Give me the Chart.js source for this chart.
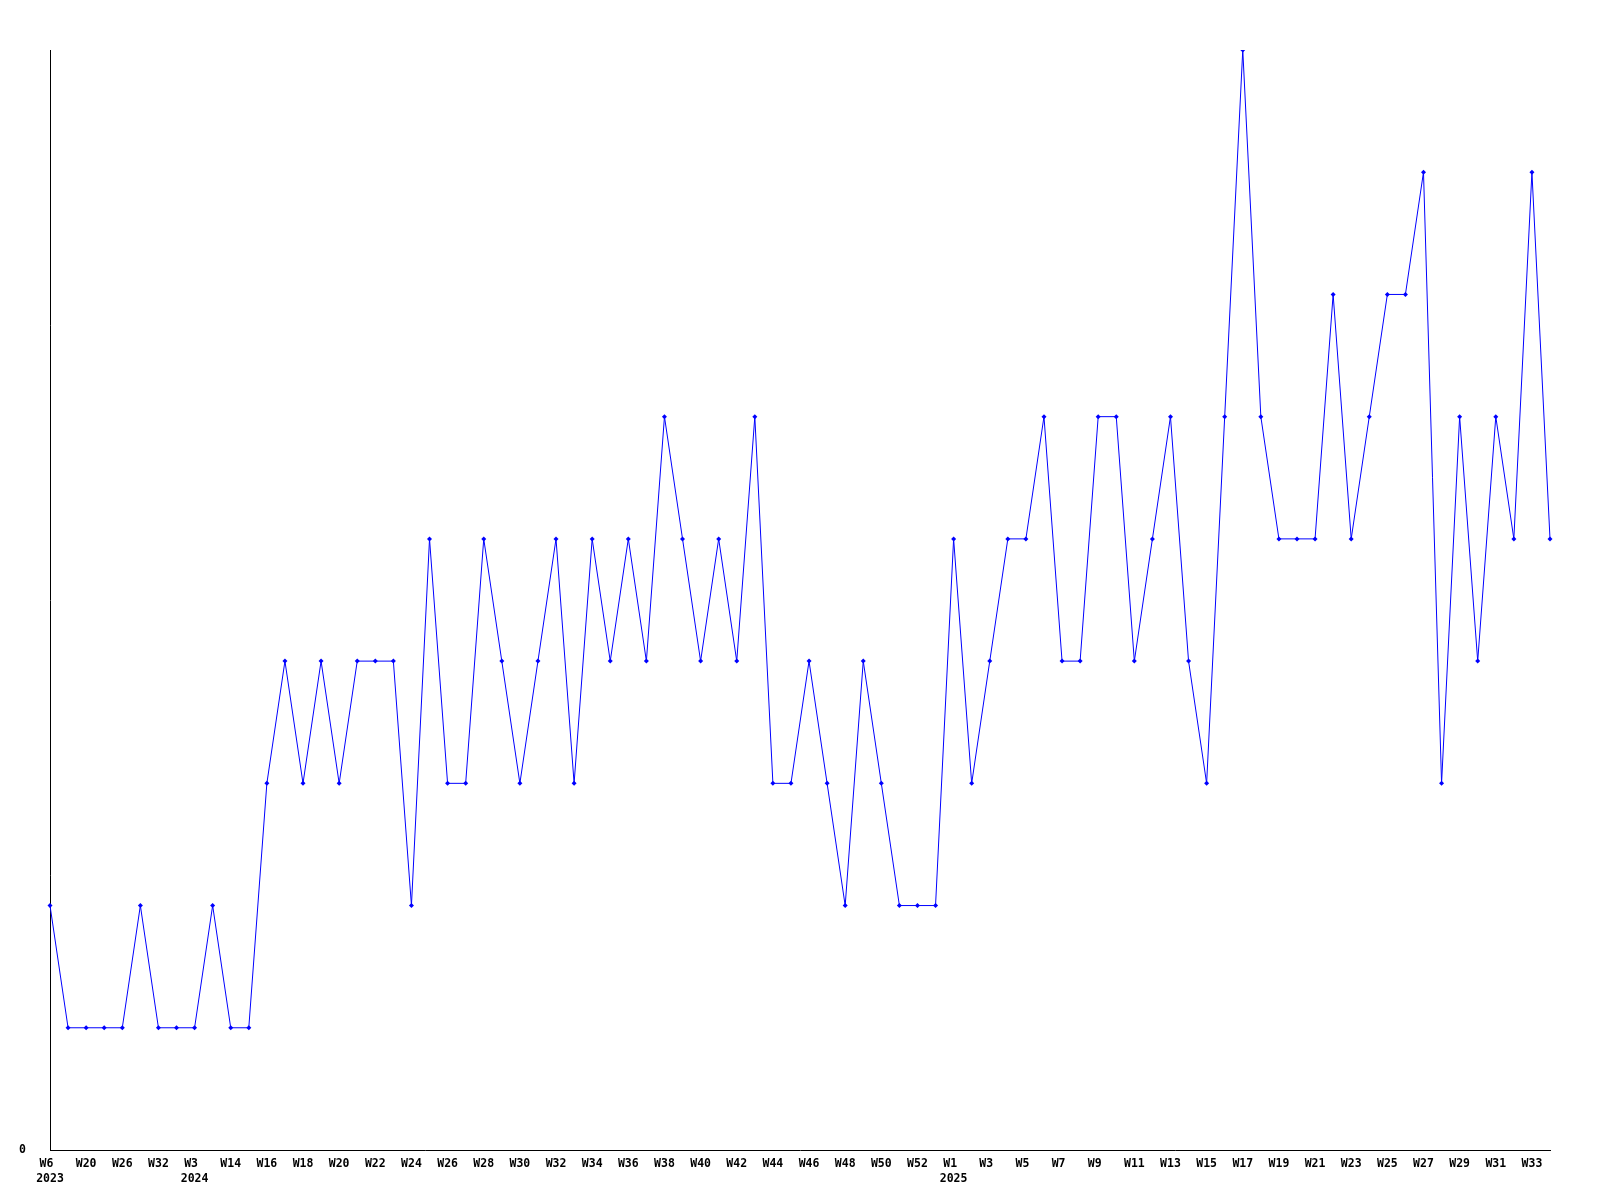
<!DOCTYPE html>
<html>
<head>
<meta charset="utf-8">
<script src="https://cdn.jsdelivr.net/npm/chart.js@4.4.1/dist/chart.umd.min.js"></script>
<style>
  body { margin: 0; background: #fff; }
</style>
</head>
<body>
<canvas id="weeklyChart" width="1600" height="1200"></canvas>
<script>
// Week labels (one per point) and the year each belongs to
const weeks = ['W6', 'W13', 'W20', 'W23', 'W26', 'W29', 'W32', 'W45', 'W3', 'W9', 'W14', 'W15',
    'W16', 'W17', 'W18', 'W19', 'W20', 'W21', 'W22', 'W23', 'W24', 'W25', 'W26', 'W27', 'W28',
    'W29', 'W30', 'W31', 'W32', 'W33', 'W34', 'W35', 'W36', 'W37', 'W38', 'W39', 'W40', 'W41',
    'W42', 'W43', 'W44', 'W45', 'W46', 'W47', 'W48', 'W49', 'W50', 'W51', 'W52', 'W53',
    'W1', 'W2', 'W3', 'W4', 'W5', 'W6', 'W7', 'W8', 'W9', 'W10', 'W11', 'W12', 'W13', 'W14',
    'W15', 'W16', 'W17', 'W18', 'W19', 'W20', 'W21', 'W22', 'W23', 'W24', 'W25', 'W26', 'W27',
    'W28', 'W29', 'W30', 'W31', 'W32', 'W33', 'W34'];
const years = [2023, 2023, 2023, 2023, 2023, 2023, 2023, 2023, 2024, 2024, 2024, 2024,
    2024, 2024, 2024, 2024, 2024, 2024, 2024, 2024, 2024, 2024, 2024, 2024, 2024,
    2024, 2024, 2024, 2024, 2024, 2024, 2024, 2024, 2024, 2024, 2024, 2024, 2024,
    2024, 2024, 2024, 2024, 2024, 2024, 2024, 2024, 2024, 2024, 2024, 2024,
    2025, 2025, 2025, 2025, 2025, 2025, 2025, 2025, 2025, 2025, 2025, 2025, 2025, 2025,
    2025, 2025, 2025, 2025, 2025, 2025, 2025, 2025, 2025, 2025, 2025, 2025, 2025,
    2025, 2025, 2025, 2025, 2025, 2025, 2025];

// Weekly counts
const counts = [2, 1, 1, 1, 1, 2, 1, 1, 1, 2, 1, 1,
    3, 4, 3, 4, 3, 4, 4, 4, 2, 5, 3, 3, 5,
    4, 3, 4, 5, 3, 5, 4, 5, 4, 6, 5, 4, 5,
    4, 6, 3, 3, 4, 3, 2, 4, 3, 2, 2, 2,
    5, 3, 4, 5, 5, 6, 4, 4, 6, 6, 4, 5, 6, 4,
    3, 6, 9, 6, 5, 5, 5, 7, 5, 6, 7, 7, 8,
    3, 6, 4, 6, 5, 8, 5];

const yMax = 9;

const tickFont = { family: '"DejaVu Sans Mono", "Liberation Mono", monospace', size: 11.5, weight: 'bold', lineHeight: 1.35 };

new Chart(document.getElementById('weeklyChart'), {
    type: 'line',
    data: {
        labels: weeks,
        datasets: [{
            data: counts,
            borderColor: '#0000ff',
            backgroundColor: '#0000ff',
            borderWidth: 1,
            pointStyle: 'rectRot',
            pointRadius: 2.5,
            pointBorderWidth: 0,
            tension: 0,
            fill: false
        }]
    },
    options: {
        responsive: false,
        animation: false,
        layout: {
            padding: { top: 50, right: 50, left: 0, bottom: 0 }
        },
        plugins: {
            legend: { display: false },
            tooltip: { enabled: false }
        },
        scales: {
            x: {
                offset: false,
                grid: { display: false, drawTicks: false },
                border: { display: true, color: '#000', width: 1 },
                afterFit: function(scale) { scale.height = 50; },
                ticks: {
                    autoSkip: false,
                    maxRotation: 0,
                    minRotation: 0,
                    padding: 6,
                    color: '#000',
                    font: tickFont,
                    callback: function(value, i) {
                        if (i % 2 !== 0) return '';
                        const w = weeks[i].padEnd(3, ' ');
                        if (i === 0 || years[i] !== years[i - 2]) {
                            return [w, String(years[i])];
                        }
                        return w;
                    }
                }
            },
            y: {
                min: 0,
                max: yMax,
                grid: { display: false, drawTicks: false },
                border: { display: true, color: '#000', width: 1 },
                afterFit: function(scale) { scale.width = 50; },
                ticks: {
                    stepSize: yMax,
                    padding: 24,
                    color: '#000',
                    font: tickFont,
                    callback: function(value) { return value === 0 ? '0' : ''; }
                }
            }
        }
    }
});
</script>
</body>
</html>
